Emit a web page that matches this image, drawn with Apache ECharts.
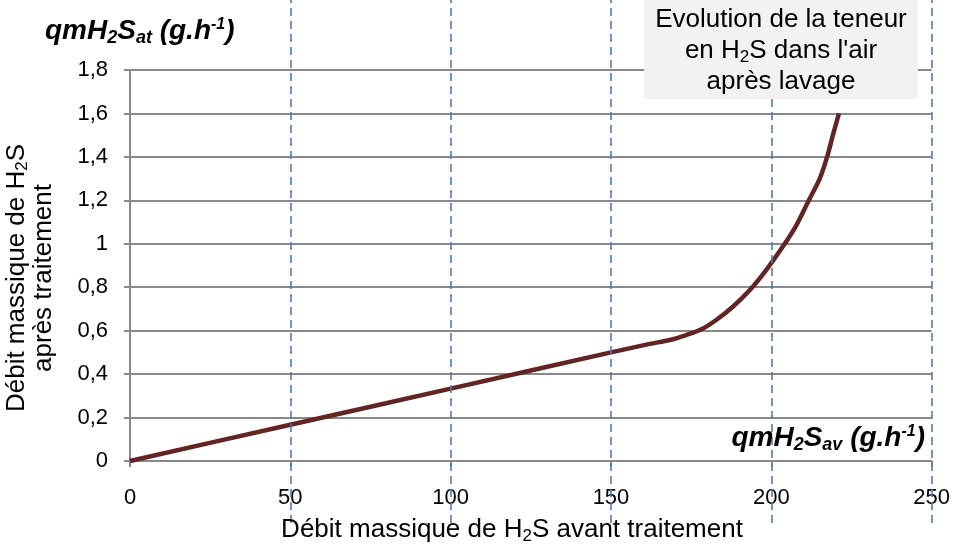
<!DOCTYPE html>
<html>
<head>
<meta charset="utf-8">
<script src="https://cdn.jsdelivr.net/npm/echarts@6/dist/echarts.min.js"></script>
<style>
html, body { margin: 0; padding: 0; background: #fff; }
#chart { width: 953px; height: 551px; }
</style>
</head>
<body>
<div id="chart"></div>
<script>
// H2S flow before treatment (g/h) and after washing (g/h)
const debitAvant = [0, 50, 100, 150, 162.1, 168.3, 173.5, 178.2, 182.8, 188, 193.3, 198.4, 203.6, 207.8, 211.7, 215.1, 217.4, 219.2, 221.1];
const debitApres = [0, 0.167, 0.333, 0.5, 0.539, 0.557, 0.58, 0.606, 0.649, 0.71, 0.787, 0.879, 0.987, 1.085, 1.2, 1.3, 1.4, 1.5, 1.6];
const xTicks = [50, 100, 150, 200, 250];

const font = "'Liberation Sans', Arial, sans-serif";
const gridGray = '#898989';

const chart = echarts.init(document.getElementById('chart'));

const boldSub = { fontSize: 18, fontStyle: 'italic', fontWeight: 'bold', fontFamily: font, fill: '#000', padding: [15, 0, 0, 0] };
const boldSup = { fontSize: 16, fontStyle: 'italic', fontWeight: 'bold', fontFamily: font, fill: '#000', padding: [0, 0, 13, 0] };

chart.setOption({
    animation: false,
    grid: [
        { left: 130, right: 21, top: 70, bottom: 90 },
        { left: 130, right: 21, top: 0, bottom: 28 }
    ],
    xAxis: [{
        type: 'value',
        min: 0,
        max: 250,
        interval: 50,
        axisLine: { lineStyle: { color: gridGray, width: 2 } },
        axisTick: { show: true, length: 6, lineStyle: { color: gridGray, width: 2 } },
        axisLabel: { color: '#000', fontFamily: font, fontSize: 22, margin: 26 },
        splitLine: { show: false }
    }, {
        type: 'value',
        gridIndex: 1,
        min: 0,
        max: 250,
        show: false
    }],
    yAxis: [{
        type: 'value',
        min: 0,
        max: 1.8,
        interval: 0.2,
        axisLine: { show: true, lineStyle: { color: gridGray, width: 2 } },
        axisTick: { show: true, length: 6, lineStyle: { color: gridGray, width: 2 } },
        axisLabel: {
            color: '#000', fontFamily: font, fontSize: 22, margin: 22,
            formatter: v => String(Number(v.toFixed(1))).replace('.', ',')
        },
        splitLine: { lineStyle: { color: gridGray, width: 2 } }
    }, {
        type: 'value',
        gridIndex: 1,
        min: 0,
        max: 1,
        show: false
    }],
    series: [{
        // vertical dashed guides, running over the whole height
        type: 'line',
        xAxisIndex: 1,
        yAxisIndex: 1,
        data: [[0, 0]],
        showSymbol: false,
        lineStyle: { width: 0 },
        z: 1,
        markLine: {
            silent: true,
            symbol: 'none',
            label: { show: false },
            lineStyle: { color: '#4a7ebb', width: 1.6, type: [8, 5] },
            data: xTicks.map(v => ({ xAxis: v }))
        }
    }, {
        type: 'line',
        data: debitAvant.map((x, i) => [x, debitApres[i]]),
        smooth: 0.3,
        showSymbol: false,
        lineStyle: { color: '#632523', width: 4.5 },
        z: 3
    }],
    graphic: [{
        type: 'rect',
        shape: { x: 644, y: 0, width: 274, height: 99 },
        style: { fill: '#f2f2f2' },
        z: 100
    }, {
        type: 'text',
        x: 781,
        y: 51,
        z: 101,
        style: {
            text: 'Evolution de la teneur\nen H{sub|2}S dans l\'air\naprès lavage',
            font: '26px ' + font,
            fill: '#000',
            align: 'center',
            verticalAlign: 'middle',
            lineHeight: 31,
            rich: {
                sub: { fontSize: 17, fontFamily: font, fill: '#000', padding: [12, 0, 0, 0], lineHeight: 31 }
            }
        }
    }, {
        type: 'text',
        x: 45,
        y: 31,
        z: 101,
        style: {
            text: 'qmH{sub|2}S{sub|at} (g.h{sup|-1})',
            font: 'italic bold 28px ' + font,
            fill: '#000',
            verticalAlign: 'middle',
            rich: { sub: boldSub, sup: boldSup }
        }
    }, {
        type: 'text',
        x: 925,
        y: 438,
        z: 101,
        style: {
            text: 'qmH{sub|2}S{sub|av} (g.h{sup|-1})',
            font: 'italic bold 28px ' + font,
            fill: '#000',
            align: 'right',
            verticalAlign: 'middle',
            rich: { sub: boldSub, sup: boldSup }
        }
    }, {
        type: 'text',
        x: 512,
        y: 530,
        z: 101,
        style: {
            text: 'Débit massique de H{sub|2}S avant traitement',
            font: '26px ' + font,
            fill: '#000',
            align: 'center',
            verticalAlign: 'middle',
            rich: {
                sub: { fontSize: 17, fontFamily: font, fill: '#000', padding: [12, 0, 0, 0] }
            }
        }
    }, {
        type: 'text',
        x: 30,
        y: 278,
        rotation: Math.PI / 2,
        z: 101,
        style: {
            text: 'Débit massique de H{sub|2}S\naprès traitement',
            font: '26px ' + font,
            fill: '#000',
            align: 'center',
            verticalAlign: 'middle',
            lineHeight: 27,
            rich: {
                sub: { fontSize: 17, fontFamily: font, fill: '#000', padding: [12, 0, 0, 0], lineHeight: 27 }
            }
        }
    }]
});
</script>
</body>
</html>
